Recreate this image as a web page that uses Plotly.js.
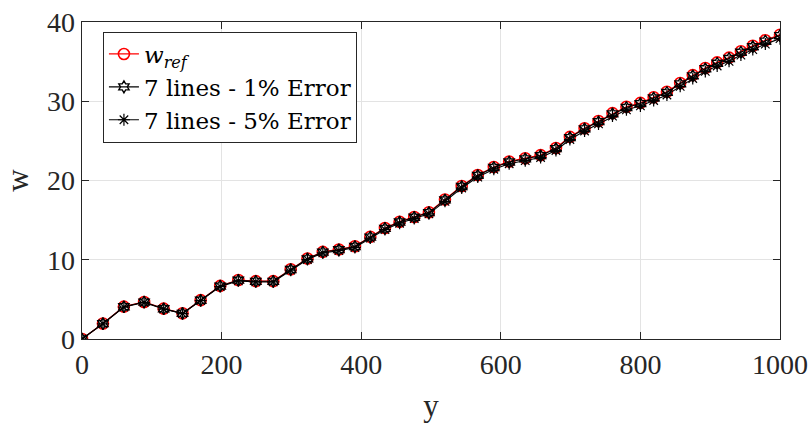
<!DOCTYPE html>
<html>
<head>
<meta charset="utf-8">
<script src="https://cdn.plot.ly/plotly-3.0.1.min.js"></script>
<style>html,body{margin:0;padding:0;background:#fff;}#chart{width:812px;height:428px;}</style>
</head>
<body>
<div id="chart"></div>
<script>
// sample positions y
var yPos = [0, 30, 60, 89, 117, 144, 170, 198, 224, 249, 274, 299, 323, 345, 368, 391, 413, 434, 455, 476, 497, 520, 544, 567, 590, 612, 635, 657, 679, 699, 720, 740, 760, 780, 800, 819, 838, 857, 875, 893, 910, 927, 944, 961, 979, 1000];
// reference deflection w_ref
var wRef = [0, 1.95, 4.08, 4.67, 3.83, 3.24, 4.9, 6.7, 7.44, 7.3, 7.3, 8.8, 10.15, 11.0, 11.3, 11.7, 12.9, 14.0, 14.8, 15.4, 16.0, 17.6, 19.3, 20.7, 21.7, 22.4, 22.8, 23.2, 24.1, 25.5, 26.6, 27.5, 28.5, 29.3, 29.8, 30.5, 31.2, 32.3, 33.3, 34.2, 34.9, 35.5, 36.3, 37.0, 37.7, 38.4];
// 7 lines - 1% error
var w1 = [0, 1.94, 4.07, 4.66, 3.82, 3.23, 4.89, 6.68, 7.42, 7.28, 7.28, 8.77, 10.12, 10.97, 11.27, 11.67, 12.86, 13.96, 14.76, 15.36, 15.95, 17.55, 19.24, 20.64, 21.64, 22.33, 22.73, 23.13, 24.03, 25.42, 26.52, 27.42, 28.41, 29.21, 29.71, 30.41, 31.11, 32.20, 33.20, 34.10, 34.80, 35.39, 36.19, 36.89, 37.59, 38.28];
// 7 lines - 5% error
var w5 = [0, 1.92, 4.03, 4.61, 3.78, 3.20, 4.84, 6.61, 7.34, 7.21, 7.20, 8.69, 10.02, 10.86, 11.15, 11.55, 12.73, 13.82, 14.61, 15.20, 15.79, 17.37, 19.05, 20.43, 21.42, 22.11, 22.50, 22.90, 23.79, 25.17, 26.25, 27.14, 28.13, 28.92, 29.41, 30.10, 30.79, 31.88, 32.87, 33.76, 34.45, 35.04, 35.83, 36.52, 37.21, 37.90];

var seriesNames = ['<i>w</i><sub><i>ref</i></sub>', '7 lines - 1% Error', '7 lines - 5% Error'];
var xTicks = [0, 200, 400, 600, 800, 1000];
var yTicks = [0, 10, 20, 30, 40];

var FONT = '"Liberation Serif", "DejaVu Serif", serif';
var LFONT = '"DejaVu Serif", "Liberation Serif", serif';
var AX = '#262626';

var traces = [
  {x: yPos, y: wRef, name: seriesNames[0], mode: 'lines+markers',
   line: {color: '#ff0000', width: 1.3},
   marker: {symbol: 'circle-open', size: 11, color: '#ff0000', line: {width: 1.6, color: '#ff0000'}}},
  {x: yPos, y: w1, name: seriesNames[1], mode: 'lines+markers',
   line: {color: '#000000', width: 1.1},
   marker: {symbol: 'hexagram-open', size: 9, color: '#000000', line: {width: 1.4, color: '#000000'}}},
  {x: yPos, y: w5, name: seriesNames[2], mode: 'lines+markers',
   line: {color: '#000000', width: 1.1},
   marker: {symbol: 'asterisk-open', size: 10, color: '#000000', line: {width: 1.2, color: '#000000'}}}
];

var axisCommon = {
  showgrid: true, gridcolor: '#e3e3e3', gridwidth: 1,
  zeroline: false, showline: true, linecolor: AX, linewidth: 1.3, mirror: 'ticks',
  ticks: 'inside', ticklen: 7, tickwidth: 1.3, tickcolor: AX,
  tickfont: {family: FONT, size: 28, color: AX},
  automargin: false
};

var layout = {
  width: 812, height: 428,
  margin: {l: 82, r: 32, t: 22, b: 89},
  paper_bgcolor: '#ffffff', plot_bgcolor: '#ffffff',
  showlegend: true,
  xaxis: Object.assign({}, axisCommon, {
    range: [0, 1000], tickvals: xTicks, ticktext: xTicks.map(String),
    title: {text: 'y', font: {family: FONT, size: 31, color: AX}, standoff: 15}
  }),
  yaxis: Object.assign({}, axisCommon, {
    range: [0, 40], tickvals: yTicks, ticktext: yTicks.map(String),
    title: {text: 'w', font: {family: FONT, size: 31, color: AX}, standoff: 9}
  }),
  legend: {
    x: 0.03, y: 0.97, xanchor: 'left', yanchor: 'top',
    bgcolor: '#ffffff', bordercolor: AX, borderwidth: 1,
    font: {family: LFONT, size: 23, color: '#000000'},
    itemwidth: 30, tracegroupgap: 0
  }
};

Plotly.newPlot('chart', traces, layout, {displayModeBar: false, staticPlot: true});
</script>
</body>
</html>
